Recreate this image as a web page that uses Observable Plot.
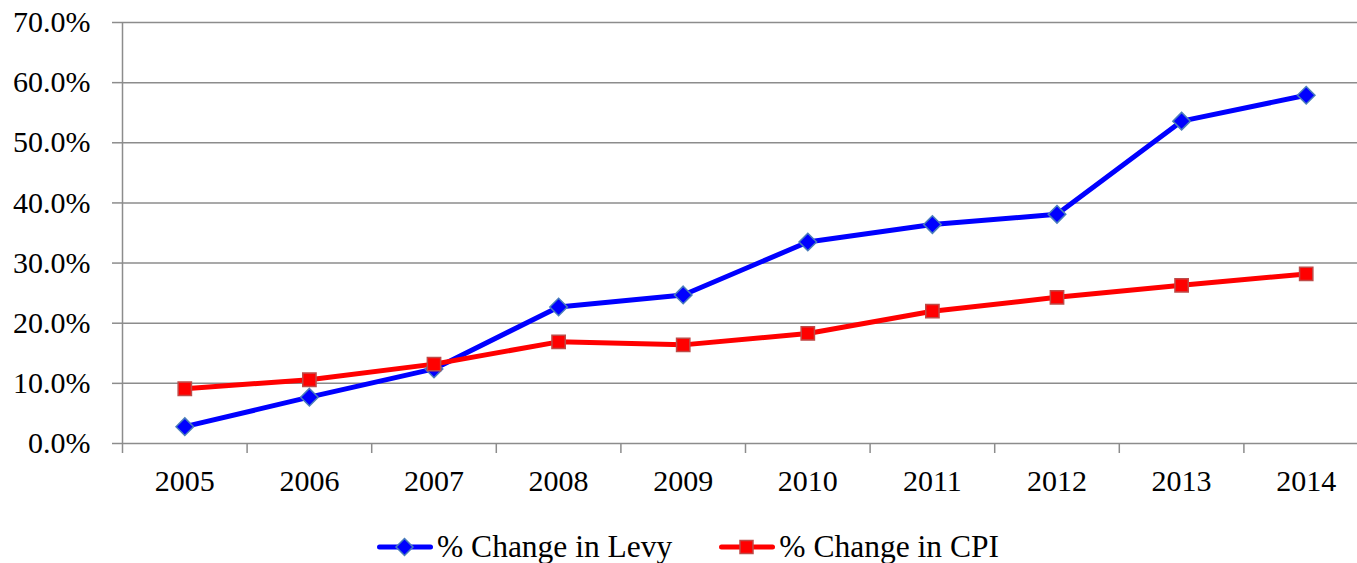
<!DOCTYPE html>
<html>
<head>
<meta charset="utf-8">
<script src="https://cdn.jsdelivr.net/npm/d3@7"></script>
<script src="https://cdn.jsdelivr.net/npm/@observablehq/plot@0.6"></script>
<style>
  html, body { margin: 0; padding: 0; background: #fff; }
  body { width: 1357px; height: 563px; overflow: hidden; position: relative;
         font-family: "Liberation Serif", "Times New Roman", serif; }
  #chart svg { display: block; max-width: none !important; width: 1368px !important; height: 510px !important;
               font-family: "Liberation Serif", "Times New Roman", serif !important; font-size: 30px !important; }
  #chart svg text { font-family: "Liberation Serif", "Times New Roman", serif !important; }
  #legend { position: absolute; left: 377px; top: 530px; height: 33px; display: flex; align-items: center;
            font-size: 31.5px; color: #000; white-space: nowrap; }
  .item { display: flex; align-items: center; }
  .item svg { display: block; margin-right: 4px; }
</style>
</head>
<body>
<div id="chart"></div>
<div id="legend"></div>
<script>
const years = [2005, 2006, 2007, 2008, 2009, 2010, 2011, 2012, 2013, 2014];
const levy  = [2.8, 7.7, 12.4, 22.7, 24.7, 33.5, 36.4, 38.1, 53.6, 57.9];
const cpi   = [9.1, 10.6, 13.2, 16.9, 16.4, 18.3, 22.0, 24.3, 26.3, 28.2];
const seriesNames = ["% Change in Levy", "% Change in CPI"];
const yTicks = [0, 10, 20, 30, 40, 50, 60, 70];

const fmt = d => d.toFixed(1) + "%";
const bounds = [years[0] - 0.5, ...years.map(y => y + 0.5)];
const levyData = years.map((year, i) => ({year, value: levy[i], series: seriesNames[0]}));
const cpiData  = years.map((year, i) => ({year, value: cpi[i], series: seriesNames[1]}));
const gridColor = "#8c8c8c";

const chart = Plot.plot({
  width: 1368,
  height: 510,
  marginLeft: 122,
  marginRight: 0,
  marginTop: 22,
  marginBottom: 67,
  x: {type: "linear", domain: [bounds[0], bounds[bounds.length - 1]]},
  y: {domain: [0, 70]},
  style: {fontFamily: "Liberation Serif, serif", fontSize: "30px", color: "#000", background: "#fff", maxWidth: "none"},
  marks: [
    Plot.ruleY(yTicks, {stroke: gridColor, strokeWidth: 1.5}),
    Plot.axisY({ticks: yTicks, tickSize: 10, tickPadding: 22, tickFormat: fmt, stroke: gridColor, strokeWidth: 1.5, fill: "#000", label: null}),
    Plot.ruleX([bounds[0]], {stroke: gridColor, strokeWidth: 1.5}),
    Plot.axisX({ticks: bounds, tickSize: 10, tickFormat: () => "", stroke: gridColor, strokeWidth: 1.5, label: null}),
    Plot.axisX({ticks: years, tickSize: 0, tickPadding: 26, tickFormat: d => String(d), fill: "#000", label: null}),
    Plot.line(levyData, {x: "year", y: "value", stroke: "#0000ff", strokeWidth: 5}),
    Plot.line(cpiData, {x: "year", y: "value", stroke: "#ff0000", strokeWidth: 5}),
    Plot.dot(levyData, {x: "year", y: "value", symbol: "diamond2", r: 7.9, fill: "#0000ff", stroke: "#4a7ebb", strokeWidth: 1.5}),
    Plot.dot(cpiData, {x: "year", y: "value", symbol: "square", r: 7.5, fill: "#ff0000", stroke: "#be4b48", strokeWidth: 1.5})
  ]
});
document.getElementById("chart").appendChild(chart);

// legend
const legendSpecs = [
  {name: seriesNames[0], color: "#0000ff", mstroke: "#4a7ebb", shape: "diamond"},
  {name: seriesNames[1], color: "#ff0000", mstroke: "#be4b48", shape: "square"}
];
const legend = document.getElementById("legend");
legendSpecs.forEach((s, i) => {
  const item = document.createElement("div");
  item.className = "item";
  if (i > 0) item.style.marginLeft = "47px";
  const marker = s.shape === "diamond"
    ? `<path d="M27.5,1.5 L36,10 L27.5,18.5 L19,10 Z" fill="${s.color}" stroke="${s.mstroke}" stroke-width="1.5"/>`
    : `<rect x="21" y="3.5" width="13" height="13" fill="${s.color}" stroke="${s.mstroke}" stroke-width="1.5"/>`;
  item.innerHTML = `<svg width="56" height="20" viewBox="0 0 56 20"><line x1="2.5" y1="10" x2="53.5" y2="10" stroke="${s.color}" stroke-width="5" stroke-linecap="round"/>${marker}</svg><span>${s.name}</span>`;
  legend.appendChild(item);
});
</script>
</body>
</html>
